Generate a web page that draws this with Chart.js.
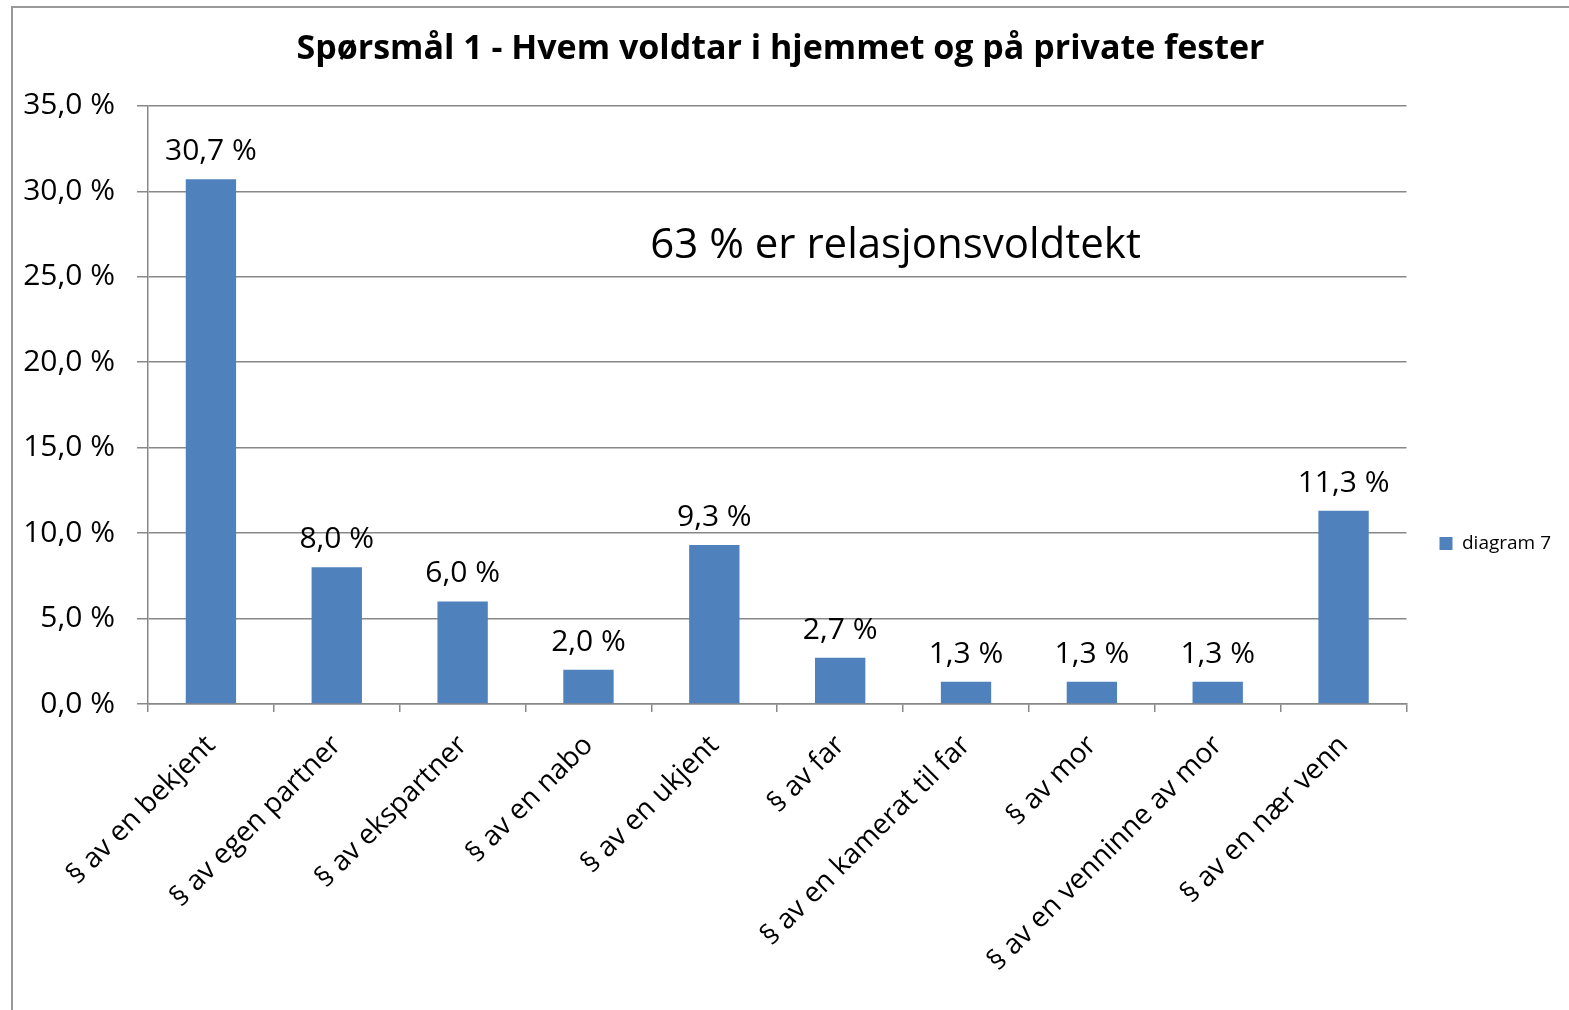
<!DOCTYPE html>
<html>
<head>
<meta charset="utf-8">
<script src="https://cdn.jsdelivr.net/npm/chart.js@4.4.1/dist/chart.umd.min.js"></script>
<style>
  html, body { margin: 0; padding: 0; background: #fff; }
  canvas { display: block; }
</style>
</head>
<body>
<canvas id="chart" width="1569" height="1010"></canvas>
<script>
"use strict";

// data
const categories = [
    '§ av en bekjent', '§ av egen partner', '§ av ekspartner', '§ av en nabo',
    '§ av en ukjent', '§ av far', '§ av en kamerat til far', '§ av mor',
    '§ av en venninne av mor', '§ av en nær venn'
];
const values = [30.7, 8.0, 6.0, 2.0, 9.3, 2.7, 1.3, 1.3, 1.3, 11.3];
const yTicks = [0, 5, 10, 15, 20, 25, 30, 35];
const seriesName = 'diagram 7';
const titleText = 'Spørsmål 1 - Hvem voldtar i hjemmet og på private fester';
const noteText = '63 % er relasjonsvoldtekt';

const pct = v => v.toFixed(1).replace('.', ',') + ' %';
const FONT = '"Open Sans", sans-serif';
const GRID = '#888888';

// white background + the grey frame round the chart object
const framePlugin = {
    id: 'frame',
    beforeDraw(chart) {
        const ctx = chart.ctx;
        ctx.save();
        ctx.fillStyle = '#fff';
        ctx.fillRect(0, 0, chart.width, chart.height);
        ctx.strokeStyle = '#999';
        ctx.lineWidth = 2;
        ctx.beginPath();
        ctx.moveTo(12, chart.height);
        ctx.lineTo(12, 7);
        ctx.lineTo(chart.width, 7);
        ctx.stroke();
        ctx.restore();
    }
};

// value labels above the bars
const valueLabels = {
    id: 'valueLabels',
    afterDatasetsDraw(chart) {
        const ctx = chart.ctx;
        ctx.save();
        ctx.font = '30px ' + FONT;
        ctx.fillStyle = '#000';
        ctx.textAlign = 'center';
        ctx.textBaseline = 'alphabetic';
        chart.getDatasetMeta(0).data.forEach((bar, i) => {
            ctx.fillText(pct(values[i]), bar.x, bar.y - 19);
        });
        ctx.restore();
    }
};

// free text inside the plot
const notePlugin = {
    id: 'note',
    afterDraw(chart) {
        const {ctx, scales} = chart;
        ctx.save();
        ctx.font = '42px ' + FONT;
        ctx.fillStyle = '#000';
        ctx.textAlign = 'center';
        ctx.textBaseline = 'middle';
        ctx.fillText(noteText, scales.x.getPixelForValue(5.44), scales.y.getPixelForValue(26.8));
        ctx.restore();
    }
};

new Chart(document.getElementById('chart'), {
    type: 'bar',
    data: {
        labels: categories,
        datasets: [{
            label: seriesName,
            data: values,
            backgroundColor: '#4F81BD',
            borderWidth: 0,
            barPercentage: 0.4,
            categoryPercentage: 1
        }]
    },
    plugins: [framePlugin, valueLabels, notePlugin],
    options: {
        responsive: false,
        animation: false,
        devicePixelRatio: 1,
        layout: { padding: { left: 0, top: 0, right: 8, bottom: 0 } },
        plugins: {
            title: {
                display: true,
                text: titleText,
                color: '#000',
                font: { family: FONT, size: 34, weight: 'bold' },
                padding: { top: 29, bottom: 36 }
            },
            legend: {
                position: 'right',
                title: { display: true, text: '', font: { size: 1 }, padding: { top: 76, bottom: 0 } },
                labels: {
                    boxWidth: 13,
                    boxHeight: 13,
                    padding: 33,
                    color: '#000',
                    font: { family: FONT, size: 19 }
                }
            },
            tooltip: { enabled: false }
        },
        scales: {
            x: {
                afterFit(scale) { scale.height = 306; },
                grid: {
                    offset: true,
                    drawOnChartArea: false,
                    color: GRID,
                    lineWidth: 1.5,
                    tickLength: 8
                },
                border: { color: GRID, width: 1.5 },
                ticks: {
                    minRotation: 45,
                    maxRotation: 45,
                    autoSkip: false,
                    padding: 17,
                    color: '#000',
                    font: { family: FONT, size: 28 }
                }
            },
            y: {
                min: 0,
                max: 35,
                afterFit(scale) { scale.width = 148; },
                afterBuildTicks(scale) { scale.ticks = yTicks.map(v => ({ value: v })); },
                grid: { color: GRID, lineWidth: 1.5, tickLength: 11 },
                border: { color: GRID, width: 1.5 },
                ticks: {
                    padding: 22,
                    color: '#000',
                    font: { family: FONT, size: 30 },
                    callback: v => pct(v)
                }
            }
        }
    }
});
</script>
</body>
</html>
